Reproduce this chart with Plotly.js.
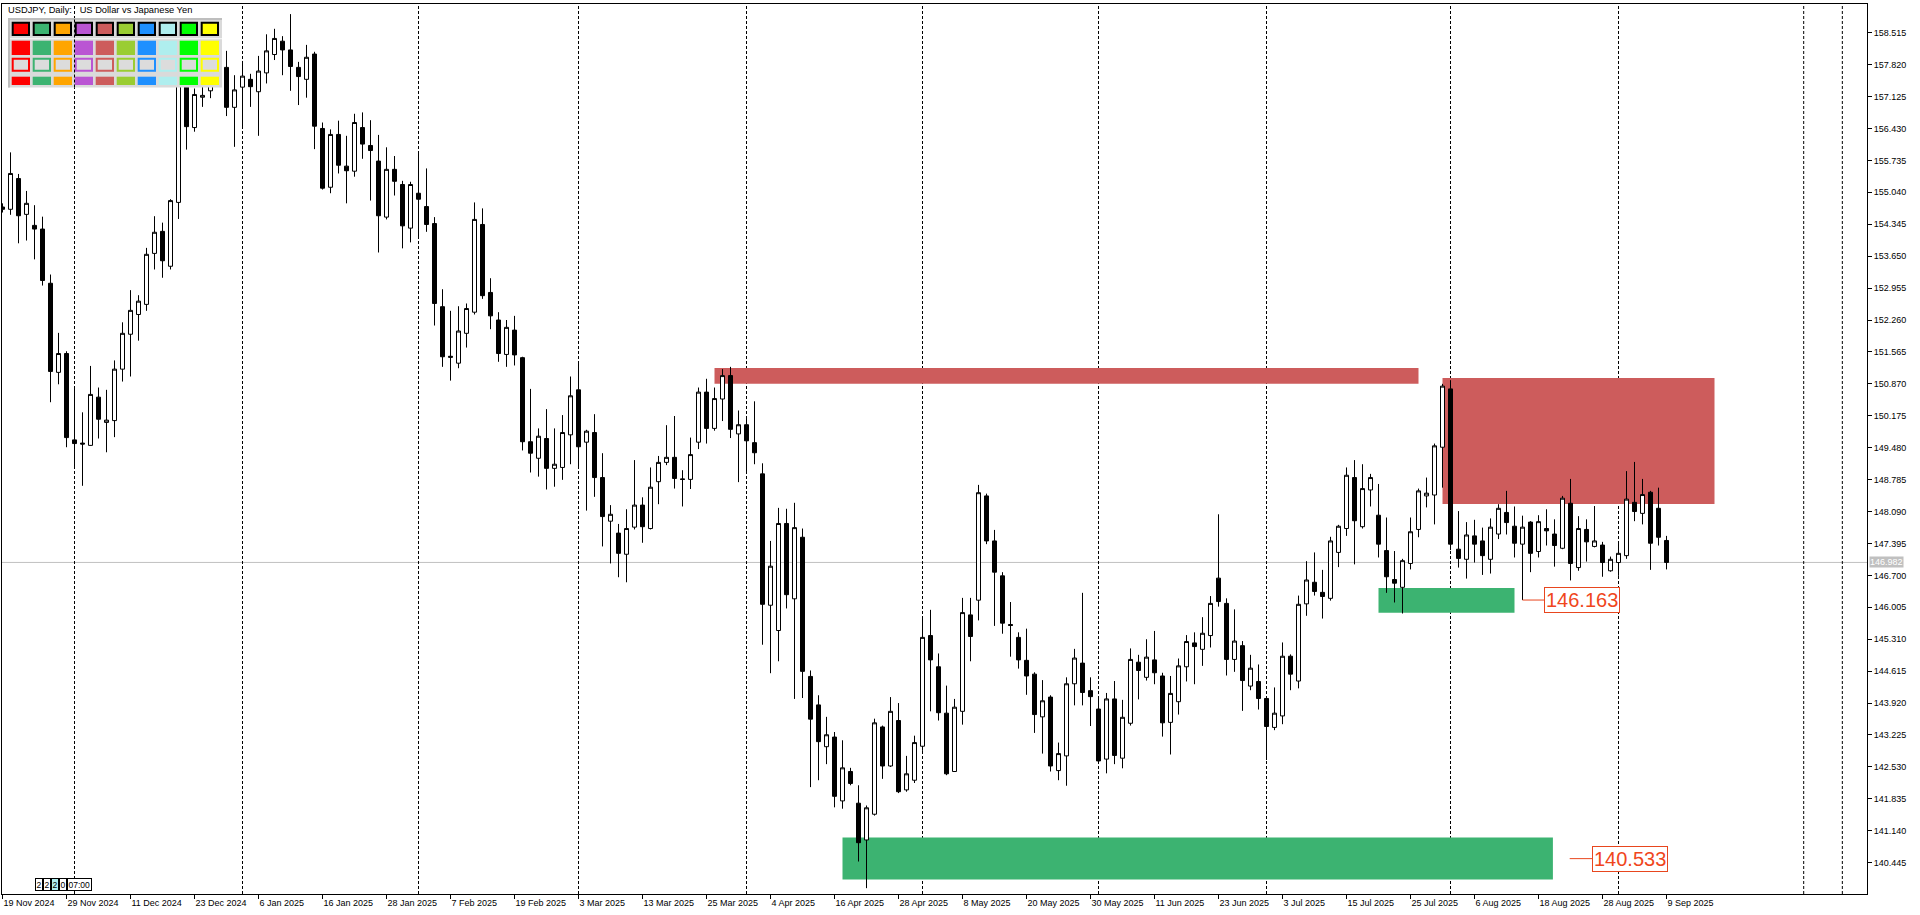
<!DOCTYPE html>
<html><head><meta charset="utf-8">
<script src="https://cdn.plot.ly/plotly-3.0.1.min.js"></script>
<style>html,body{margin:0;padding:0;background:#fff;overflow:hidden}#chart{width:1920px;height:915px}</style>
</head><body><div id="chart"></div>
<script>
// ---------- data ----------
const dates = [
"2024-11-19","2024-11-20","2024-11-21","2024-11-22","2024-11-25","2024-11-26","2024-11-27","2024-11-28","2024-11-29",
"2024-12-02","2024-12-03","2024-12-04","2024-12-05","2024-12-06","2024-12-09","2024-12-10","2024-12-11","2024-12-12","2024-12-13","2024-12-16","2024-12-17","2024-12-18","2024-12-19","2024-12-20","2024-12-23","2024-12-24","2024-12-26","2024-12-27","2024-12-30","2024-12-31",
"2025-01-02","2025-01-03","2025-01-06","2025-01-07","2025-01-08","2025-01-09","2025-01-10","2025-01-13","2025-01-14","2025-01-15","2025-01-16","2025-01-17","2025-01-20","2025-01-21","2025-01-22","2025-01-23","2025-01-24","2025-01-27","2025-01-28","2025-01-29","2025-01-30","2025-01-31",
"2025-02-03","2025-02-04","2025-02-05","2025-02-06","2025-02-07","2025-02-10","2025-02-11","2025-02-12","2025-02-13","2025-02-14","2025-02-17","2025-02-18","2025-02-19","2025-02-20","2025-02-21","2025-02-24","2025-02-25","2025-02-26","2025-02-27","2025-02-28",
"2025-03-03","2025-03-04","2025-03-05","2025-03-06","2025-03-07","2025-03-10","2025-03-11","2025-03-12","2025-03-13","2025-03-14","2025-03-17","2025-03-18","2025-03-19","2025-03-20","2025-03-21","2025-03-24","2025-03-25","2025-03-26","2025-03-27","2025-03-28","2025-03-31",
"2025-04-01","2025-04-02","2025-04-03","2025-04-04","2025-04-07","2025-04-08","2025-04-09","2025-04-10","2025-04-11","2025-04-14","2025-04-15","2025-04-16","2025-04-17","2025-04-18","2025-04-21","2025-04-22","2025-04-23","2025-04-24","2025-04-25","2025-04-28","2025-04-29","2025-04-30",
"2025-05-01","2025-05-02","2025-05-05","2025-05-06","2025-05-07","2025-05-08","2025-05-09","2025-05-12","2025-05-13","2025-05-14","2025-05-15","2025-05-16","2025-05-19","2025-05-20","2025-05-21","2025-05-22","2025-05-23","2025-05-26","2025-05-27","2025-05-28","2025-05-29","2025-05-30",
"2025-06-02","2025-06-03","2025-06-04","2025-06-05","2025-06-06","2025-06-09","2025-06-10","2025-06-11","2025-06-12","2025-06-13","2025-06-16","2025-06-17","2025-06-18","2025-06-19","2025-06-20","2025-06-23","2025-06-24","2025-06-25","2025-06-26","2025-06-27","2025-06-30",
"2025-07-01","2025-07-02","2025-07-03","2025-07-04","2025-07-07","2025-07-08","2025-07-09","2025-07-10","2025-07-11","2025-07-14","2025-07-15","2025-07-16","2025-07-17","2025-07-18","2025-07-21","2025-07-22","2025-07-23","2025-07-24","2025-07-25","2025-07-28","2025-07-29","2025-07-30","2025-07-31",
"2025-08-01","2025-08-04","2025-08-05","2025-08-06","2025-08-07","2025-08-08","2025-08-11","2025-08-12","2025-08-13","2025-08-14","2025-08-15","2025-08-18","2025-08-19","2025-08-20","2025-08-21","2025-08-22","2025-08-25","2025-08-26","2025-08-27","2025-08-28","2025-08-29",
"2025-09-01","2025-09-02","2025-09-03","2025-09-04","2025-09-05","2025-09-08","2025-09-09"
];
const open = [
154.72,154.67,155.34,154.56,154.32,154.24,153.06,151.12,151.53,149.65,
149.58,149.53,150.58,150.03,150.07,151.19,151.95,152.38,152.60,153.71,
154.19,153.43,154.82,157.40,156.45,157.11,157.25,157.75,157.76,156.89,
157.33,157.50,157.23,157.64,158.04,158.33,158.14,157.76,157.50,158.05,
156.43,155.15,156.30,155.61,155.50,156.45,156.06,155.72,154.50,155.54,
155.21,154.26,155.02,154.73,154.36,152.55,151.47,151.32,151.97,152.43,
154.34,152.86,152.26,151.51,152.04,151.44,149.61,149.25,149.68,149.03,
149.05,149.76,150.74,149.60,149.81,148.83,147.88,147.62,147.16,147.75,
148.23,147.72,148.74,149.16,149.27,148.80,148.79,149.60,150.69,149.90,
150.54,151.05,149.78,149.98,149.59,148.91,146.05,145.50,147.83,146.19,
147.53,144.50,143.88,142.97,143.18,141.79,142.43,141.74,140.94,141.50,
143.40,142.55,143.54,142.03,142.24,142.98,145.39,144.71,143.70,142.43,
143.74,145.84,146.16,148.43,147.45,146.69,145.63,145.35,144.85,144.55,
143.62,144.05,142.45,142.77,144.34,144.79,144.19,143.79,142.70,144.01,
142.72,143.48,144.81,144.48,144.86,144.51,143.50,143.95,144.71,145.23,
145.09,145.39,146.64,146.09,144.87,145.17,144.29,144.39,144.02,143.39,
143.64,144.94,144.40,146.08,146.55,146.33,146.20,147.20,147.72,148.83,
147.76,148.56,148.01,147.24,146.61,146.44,146.96,147.70,148.43,148.45,
149.49,150.76,147.27,147.05,147.56,147.45,147.05,147.60,148.07,147.77,
147.38,147.86,147.22,147.72,147.60,147.29,148.27,146.87,147.70,147.33,
147.36,146.80,146.98,147.13,148.29,148.05,148.51,148.16,147.46];
const high = [
154.80,155.91,155.44,155.07,154.76,154.51,153.25,151.98,151.58,150.81,
150.25,151.26,150.79,150.74,151.38,152.21,152.91,152.80,153.83,154.52,
154.38,154.89,157.92,157.70,157.30,157.45,157.95,158.05,158.12,157.59,
157.90,157.62,158.01,158.48,158.60,158.44,158.92,157.88,158.25,158.10,
156.56,156.41,156.60,156.27,156.75,156.78,156.61,156.29,156.02,155.83,
155.29,155.27,155.91,155.56,154.50,152.93,152.46,152.56,152.62,154.82,
154.69,153.17,152.43,152.26,152.35,151.46,150.76,149.90,150.32,149.90,
150.19,151.03,151.34,149.87,150.21,149.36,148.23,147.82,148.14,149.21,
148.40,149.05,149.30,149.97,150.17,148.99,149.70,150.79,150.98,150.79,
151.19,151.24,150.29,150.15,150.49,149.14,147.45,148.17,148.15,148.28,
147.72,144.63,144.09,143.62,143.29,143.11,142.51,142.13,141.69,143.58,
143.43,144.05,143.92,142.77,143.21,145.76,145.95,145.00,144.30,144.01,
146.21,146.21,148.67,148.48,147.69,146.77,146.12,145.46,145.54,144.59,
144.42,144.09,143.06,144.48,145.10,146.32,144.48,144.02,144.14,144.40,
143.99,145.11,144.97,145.31,145.49,144.58,144.51,144.89,145.40,145.46,
145.79,146.25,148.03,146.20,145.96,145.27,144.97,144.76,144.05,144.26,
145.24,144.98,146.26,147.01,147.20,146.82,147.54,147.80,149.05,149.21,
149.12,148.91,148.69,147.96,147.23,147.06,147.96,148.59,148.83,149.57,
150.87,150.95,148.10,147.86,147.91,147.74,147.94,148.25,148.54,148.20,
148.00,147.88,148.01,148.14,147.92,148.43,148.80,147.99,147.92,148.21,
147.43,147.11,147.42,148.97,149.17,148.80,148.54,148.61,147.56];
const low = [
154.60,154.55,153.93,153.99,153.58,153.01,150.47,150.86,149.49,149.07,
148.65,149.52,149.68,149.38,149.71,150.92,151.03,151.81,152.46,153.36,
153.18,153.36,154.46,155.97,156.36,156.90,157.09,157.50,156.70,156.03,
156.47,156.90,156.27,157.41,157.92,157.59,157.25,156.94,157.10,155.98,
155.10,155.02,155.45,154.80,155.38,155.77,154.86,153.73,154.45,154.97,
153.82,153.95,154.04,154.18,152.14,151.24,150.94,151.21,151.66,152.38,
152.72,152.06,151.35,151.24,151.27,149.42,148.94,148.85,148.57,148.63,
148.78,149.12,149.07,148.11,148.41,147.33,146.96,146.66,146.55,147.70,
147.41,147.70,148.25,149.10,148.59,148.20,148.58,149.45,149.57,149.85,
150.06,149.69,148.73,148.95,149.12,145.19,144.57,144.83,145.98,144.01,
144.03,142.09,142.24,142.59,141.65,141.62,142.13,140.47,139.89,141.47,
142.27,142.53,141.96,141.99,142.18,142.88,143.74,143.54,142.35,142.42,
143.45,144.83,145.72,147.38,145.60,145.43,144.93,144.67,144.10,143.27,
142.82,142.43,142.24,142.12,143.87,143.87,143.42,142.65,142.39,142.59,
142.50,143.43,144.00,144.41,144.33,143.19,142.80,143.67,144.39,144.33,
144.73,145.13,146.02,144.52,144.60,143.75,144.20,143.78,142.68,143.33,
143.46,144.20,144.24,145.82,146.26,145.76,146.15,146.88,147.56,146.94,
147.72,148.20,147.09,146.32,146.11,145.87,146.83,147.53,148.18,147.81,
148.61,147.25,146.87,146.63,146.98,146.71,146.74,147.49,147.59,147.09,
146.163,146.77,147.09,147.35,146.89,147.27,146.59,146.80,147.00,147.31,
146.67,146.78,146.69,147.06,147.88,147.81,146.82,147.35,146.83];
const close = [
154.67,155.45,154.53,154.80,154.24,153.12,151.14,151.53,149.70,149.57,
149.56,150.64,150.10,150.08,151.19,151.97,152.47,152.67,153.69,154.17,
153.55,154.86,157.38,156.47,157.17,157.15,157.75,157.85,156.89,157.27,
157.57,157.34,157.68,158.12,158.39,158.14,157.78,157.56,157.98,156.48,
155.13,156.30,155.63,155.51,156.56,156.09,155.95,154.53,155.54,155.28,
154.31,155.21,154.89,154.34,152.62,151.46,151.45,152.02,152.51,154.45,
152.79,152.35,151.53,152.10,151.50,149.61,149.36,149.73,149.03,149.12,
149.81,150.61,149.50,149.84,148.83,147.98,148.03,147.18,147.72,148.23,
147.76,148.62,149.16,149.27,148.81,148.79,149.33,150.69,149.90,150.55,
151.05,149.88,149.98,149.63,149.37,146.07,146.90,147.83,146.28,147.74,
144.61,143.57,143.08,143.23,141.89,142.51,142.17,140.88,141.64,143.49,
142.55,143.74,141.99,142.38,143.06,145.35,144.86,143.71,142.38,143.83,
145.89,145.37,148.50,147.45,146.77,145.66,145.61,144.86,144.51,143.67,
143.97,142.55,142.82,144.34,144.90,144.15,144.06,142.66,144.01,142.78,
143.61,144.87,144.63,144.92,144.58,143.49,144.13,144.73,145.26,145.15,
145.44,146.09,146.13,144.87,145.27,144.41,144.68,144.02,143.41,143.70,
144.94,144.55,146.07,146.60,146.35,146.24,147.45,147.77,148.88,147.89,
148.59,148.83,147.38,146.67,146.53,147.02,147.65,148.54,148.49,149.52,
150.82,147.38,147.07,147.58,147.38,147.13,147.75,148.16,147.85,147.40,
147.75,147.18,147.87,147.67,147.35,148.38,146.96,147.72,147.43,147.45,
146.98,147.05,147.18,148.36,148.09,148.46,147.40,147.53,146.982];

const tickDates = ["2024-11-19","2024-11-29","2024-12-11","2024-12-23","2025-01-06","2025-01-16","2025-01-28","2025-02-07","2025-02-19","2025-03-03","2025-03-13","2025-03-25","2025-04-04","2025-04-16","2025-04-28","2025-05-08","2025-05-20","2025-05-30","2025-06-11","2025-06-23","2025-07-03","2025-07-15","2025-07-25","2025-08-06","2025-08-18","2025-08-28","2025-09-09"];
const tickText = ["19 Nov 2024","29 Nov 2024","11 Dec 2024","23 Dec 2024","6 Jan 2025","16 Jan 2025","28 Jan 2025","7 Feb 2025","19 Feb 2025","3 Mar 2025","13 Mar 2025","25 Mar 2025","4 Apr 2025","16 Apr 2025","28 Apr 2025","8 May 2025","20 May 2025","30 May 2025","11 Jun 2025","23 Jun 2025","3 Jul 2025","15 Jul 2025","25 Jul 2025","6 Aug 2025","18 Aug 2025","28 Aug 2025","9 Sep 2025"];
const priceTicks = [158.515,157.820,157.125,156.430,155.735,155.040,154.345,153.650,152.955,152.260,151.565,150.870,150.175,149.480,148.785,148.090,147.395,146.700,146.005,145.310,144.615,143.920,143.225,142.530,141.835,141.140,140.445];
const monthStarts = ["2024-12-02","2025-01-02","2025-02-03","2025-03-03","2025-04-01","2025-05-01","2025-06-02","2025-07-01","2025-08-01","2025-09-01"];
const futureSeparators = [225.15, 229.98];   // bar positions to the right of the last bar

const lastPrice = 146.982;
const levelMid = 146.163;
const levelLow = 140.533;
// zones: [bar from, bar to, price low, price high]
const zoneRedThin  = [89, 177, 150.873, 151.215];
const zoneRedBig   = [180, 214, 148.254, 150.997];
const zoneGreenSm  = [172, 189, 145.887, 146.425];
const zoneGreenBig = [105, 193.8, 140.076, 140.993];
const labelMid = [190, 192.7];   // line start bar, box start bar
const labelLow = [195.9, 198.7];

const title = "USDJPY, Daily:\u00a0\u00a0\u00a0US Dollar vs Japanese Yen";
const paletteColors = ['#FF0000','#3CB371','#FFA500','#BA55D3','#CD5C5C','#9ACD32','#1E90FF','#AFEEEE','#00FF00','#FFFF00'];

// ---------- geometry ----------
const ML = 2, MT = 4, MR = 53, MB = 21, WIDTH = 1920, HEIGHT = 915;
const PW = WIDTH - ML - MR, PH = HEIGHT - MT - MB;
const fx = px => (px - ML) / PW;
const fy = py => (MT + PH - py) / PH;
const FONT = 'Liberation Sans, Arial, sans-serif';
const SEP_LINE = {color:'#000', width:1, dash:'3px,2px'};

const shapes = [];
const annotations = [];
function pxRect(x0, y0, x1, y1, fill, lineColor, lineWidth, layer) {
  shapes.push({type:'rect', xref:'paper', yref:'paper', x0:fx(x0), x1:fx(x1), y0:fy(y1), y1:fy(y0),
    fillcolor: fill || 'rgba(0,0,0,0)', line:{color: lineColor || 'rgba(0,0,0,0)', width: lineWidth || 0}, layer: layer || 'above'});
}
function zoneRect(z, color) {
  shapes.push({type:'rect', xref:'x', yref:'y', x0:z[0], x1:z[1], y0:z[2], y1:z[3], fillcolor:color, line:{width:0}, layer:'below'});
}

// zones (background objects)
zoneRect(zoneRedThin, '#CD5C5C');
zoneRect(zoneRedBig, '#CD5C5C');
zoneRect(zoneGreenSm, '#3CB371');
zoneRect(zoneGreenBig, '#3CB371');

// current price line
shapes.push({type:'line', xref:'paper', yref:'y', x0:0, x1:1, y0:lastPrice, y1:lastPrice, line:{color:'#C0C0C0', width:1}, layer:'below'});

// period separators (behind the candles, over the zones)
monthStarts.forEach(d => shapes.push({type:'line', xref:'x', yref:'paper', x0:d, x1:d, y0:0, y1:1, line:SEP_LINE, layer:'below'}));
futureSeparators.forEach(d => shapes.push({type:'line', xref:'x', yref:'paper', x0:d, x1:d, y0:0, y1:1, line:SEP_LINE, layer:'below'}));

// label connector lines
shapes.push({type:'line', xref:'x', yref:'y', x0:labelMid[0], x1:labelMid[1], y0:levelMid, y1:levelMid, line:{color:'#E8461E', width:1}, layer:'above'});
shapes.push({type:'line', xref:'x', yref:'y', x0:labelLow[0], x1:labelLow[1], y0:levelLow, y1:levelLow, line:{color:'#E8461E', width:1}, layer:'above'});

// color palette panel (top-left)
pxRect(8, 18, 222, 87.5, '#DADADA', null, 0, 'above');
pxRect(8, 18, 222, 20, '#BEBEBE', null, 0, 'above');
pxRect(8, 18, 10, 87.5, '#BEBEBE', null, 0, 'above');
pxRect(10, 38, 222, 39.3, '#F2F2F2', null, 0, 'above');
paletteColors.forEach((c, k) => {
  const x0 = 11.7 + 21 * k, x1 = x0 + 18.3;
  pxRect(x0 + 1, 22.7, x1 - 1, 35, c, '#000', 2, 'above');
  pxRect(x0, 40.7, x1, 55, c, null, 0, 'above');
  pxRect(x0 + 1, 58.7, x1 - 1, 70.7, '#DCDCDC', c, 2, 'above');
  pxRect(x0, 76.7, x1, 85, c, null, 0, 'above');
});
// the first month separator is drawn across the panel as well
shapes.push({type:'line', xref:'x', yref:'paper', x0:monthStarts[0], x1:monthStarts[0], y0:fy(87.5), y1:fy(18), line:SEP_LINE, layer:'above'});

// annotations
annotations.push({xref:'paper', yref:'paper', x:fx(6), y:fy(3), xanchor:'left', yanchor:'top', showarrow:false,
  text:title, font:{family:FONT, size:9.3, color:'#000'}});
annotations.push({xref:'x', yref:'y', x:labelMid[1], y:levelMid, xanchor:'left', yanchor:'middle', showarrow:false,
  text:levelMid.toFixed(3), font:{family:FONT, size:20, color:'#F0461C'}, bgcolor:'#FFFFFF', bordercolor:'#E8461E', borderwidth:1, borderpad:1});
annotations.push({xref:'x', yref:'y', x:labelLow[1], y:levelLow, xanchor:'left', yanchor:'middle', showarrow:false,
  text:levelLow.toFixed(3), font:{family:FONT, size:20, color:'#F0461C'}, bgcolor:'#FFFFFF', bordercolor:'#E8461E', borderwidth:1, borderpad:1});
annotations.push({xref:'paper', yref:'y', x:1, xshift:2, y:lastPrice, xanchor:'left', yanchor:'middle', showarrow:false,
  text:lastPrice.toFixed(3), font:{family:FONT, size:9, color:'#FFFFFF'}, bgcolor:'#C0C0C0', borderpad:0});
// small widget at the bottom-left
const widget = [['2',35,'#FFFFFF'],['2',43,'#FFFFFF'],['2',51,'#AFEEEE'],['0',59,'#FFFFFF'],['07:00',67,'#FFFFFF']];
widget.forEach(w => annotations.push({xref:'paper', yref:'paper', x:fx(w[1]), y:fy(884), xanchor:'left', yanchor:'middle', showarrow:false,
  text:w[0], font:{family:FONT, size:8.5, color:'#000'}, bgcolor:w[2], bordercolor:'#000', borderwidth:1, borderpad:0.5}));

const trace = {
  type:'candlestick', x:dates, open:open, high:high, low:low, close:close,
  increasing:{line:{color:'#000000', width:1}, fillcolor:'#FFFFFF'},
  decreasing:{line:{color:'#000000', width:1}, fillcolor:'#000000'},
  whiskerwidth:0, hoverinfo:'skip', showlegend:false
};

const layout = {
  width:WIDTH, height:HEIGHT, margin:{l:ML, r:MR, t:MT, b:MB, pad:0},
  paper_bgcolor:'#FFFFFF', plot_bgcolor:'#FFFFFF', showlegend:false,
  boxgap:0.5, boxgroupgap:0, hovermode:false, dragmode:false,
  xaxis:{type:'category', range:[-0.0625, PW/8 - 0.0625], rangeslider:{visible:false},
    showgrid:false, zeroline:false, showline:true, mirror:true, linecolor:'#000', linewidth:1,
    ticks:'outside', ticklen:4, tickcolor:'#000', tickwidth:1, tickmode:'array', tickvals:tickDates, ticktext:tickText,
    ticklabelposition:'outside right', tickfont:{family:FONT, size:9, color:'#000'}, fixedrange:true},
  yaxis:{side:'right', range:[139.763, 159.140], showgrid:false, zeroline:false, showline:true, mirror:true,
    linecolor:'#000', linewidth:1, ticks:'outside', ticklen:4, tickcolor:'#000', tickwidth:1,
    tickmode:'array', tickvals:priceTicks, ticktext:priceTicks.map(v => v.toFixed(3)),
    tickfont:{family:FONT, size:9, color:'#000'}, fixedrange:true},
  shapes:shapes, annotations:annotations
};

Plotly.newPlot('chart', [trace], layout, {staticPlot:true, displayModeBar:false});
</script>
</body></html>
